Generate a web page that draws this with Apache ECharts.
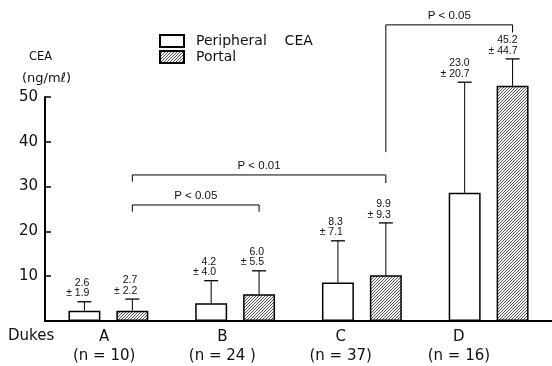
<!DOCTYPE html>
<html>
<head>
<meta charset="utf-8">
<script src="https://cdn.jsdelivr.net/npm/echarts@6/dist/echarts.min.js"></script>
<style>html,body{margin:0;padding:0;background:#fff}#chart{width:552px;height:366px}</style>
</head>
<body>
<div id="chart"></div>
<script>
// ---- data ----
const categories = ['A', 'B', 'C', 'D'];
const groupSizes = ['(n = 10)', '(n = 24 )', '(n = 37)', '(n = 16)'];
const peripheralMean = [2.3, 3.95, 8.6, 28.6];
const portalMean = [2.3, 5.95, 10.2, 52.5];
const peripheralUpper = [4.3, 9.0, 17.9, 53.3];
const portalUpper = [4.9, 11.2, 21.9, 58.5];
const peripheralText = ['2.6\n± 1.9', '4.2\n± 4.0', '8.3\n± 7.1', '23.0\n± 20.7'];
const portalText = ['2.7\n± 2.2', '6.0\n± 5.5', '9.9\n± 9.3', '45.2\n± 44.7'];
const yTicks = [10, 20, 30, 40, 50];
// significance brackets (between portal bars)
const bracketFrom = [0, 0, 2];
const bracketTo = [1, 2, 3];
const bracketLevel = [25.9, 32.6, 66.1];
const bracketLeftEnd = [24.4, 31.1, 37.7];
const bracketRightEnd = [24.4, 30.8, 64.4];
const bracketLabel = ['P < 0.05', 'P < 0.01', 'P < 0.05'];

const CAT_GAP = 0.37, BAR_GAP = 0.5;
const FONT = '"DejaVu Sans", sans-serif';
const SMALL = '"Liberation Sans", Arial, sans-serif';

function barOffset(band, idx) {
  const group = band * (1 - CAT_GAP);
  const bw = group / (2 + BAR_GAP);
  return -group / 2 + bw / 2 + idx * bw * (1 + BAR_GAP);
}

// hatch pattern
const pc = document.createElement('canvas');
pc.width = 3; pc.height = 3;
const pctx = pc.getContext('2d');
pctx.fillStyle = '#f4f4f4'; pctx.fillRect(0, 0, 3, 3);
pctx.fillStyle = '#555';
for (let x = 0; x < 3; x++) for (let y = 0; y < 3; y++) if ((x + y) % 3 === 2) pctx.fillRect(x, y, 1, 1);
const hatch = { image: pc, repeat: 'repeat' };

const errData = [];
categories.forEach((c, i) => {
  errData.push([i, peripheralMean[i], peripheralUpper[i], 0, i]);
  errData.push([i, portalMean[i], portalUpper[i], 1, i]);
});
const brData = bracketFrom.map((f, i) => [f, bracketLevel[i], bracketTo[i], bracketLeftEnd[i], bracketRightEnd[i]]);

const chart = echarts.init(document.getElementById('chart'), null, { renderer: 'canvas' });
chart.setOption({
  animation: false,
  backgroundColor: '#fff',
  title: [
    { text: 'CEA', left: 29, top: 51, padding: 0, textStyle: { fontSize: 11.5, fontWeight: 'normal', fontFamily: FONT, color: '#111' } },
    { text: '(ng/mℓ)', left: 22, top: 72, padding: 0, textStyle: { fontSize: 13, fontWeight: 'normal', fontFamily: FONT, color: '#111' } },
    { text: 'Dukes', left: 8, top: 329, padding: 0, textStyle: { fontSize: 15, fontWeight: 'normal', fontFamily: FONT, color: '#111' } }
  ],
  legend: {
    left: 159, top: 34, orient: 'vertical', padding: 0,
    itemWidth: 24, itemHeight: 12, itemGap: 2, icon: 'rect', selectedMode: false,
    formatter: n => n.replace(' ', '    '),
    textStyle: { fontSize: 14, fontFamily: FONT, color: '#111', padding: [0, 0, 0, 7] },
    data: ['Peripheral CEA', 'Portal']
  },
  grid: [
    { left: 45, width: 508, top: 97, bottom: 45 },
    { left: 45, width: 473, top: 97, bottom: 45 }
  ],
  xAxis: [
    { type: 'category', data: categories, gridIndex: 0,
      axisLine: { lineStyle: { color: '#000', width: 2 } }, axisTick: { show: false }, axisLabel: { show: false } },
    { type: 'category', data: categories, gridIndex: 1,
      axisLine: { show: false }, axisTick: { show: false },
      axisLabel: { formatter: (v, i) => v + '\n' + groupSizes[i], fontSize: 15, lineHeight: 19, margin: 7, fontFamily: FONT, color: '#111' } }
  ],
  yAxis: [
    { type: 'value', gridIndex: 0, min: 0, max: 50, interval: 10,
      axisLine: { show: true, lineStyle: { color: '#000', width: 2 } },
      axisTick: { show: true, inside: true, length: 6, lineStyle: { color: '#000', width: 1.5 } },
      splitLine: { show: false },
      axisLabel: { formatter: v => (yTicks.indexOf(v) >= 0 ? String(v) : ''), fontSize: 15, margin: 7, fontFamily: FONT, color: '#111' } },
    { type: 'value', gridIndex: 1, min: 0, max: 50, show: false }
  ],
  series: [
    { name: 'Peripheral CEA', type: 'bar', data: peripheralMean, clip: false,
      barGap: (BAR_GAP * 100) + '%', barCategoryGap: (CAT_GAP * 100) + '%',
      itemStyle: { color: '#fff', borderColor: '#000', borderWidth: 1.5 } },
    { name: 'Portal', type: 'bar', data: portalMean, clip: false,
      barGap: (BAR_GAP * 100) + '%', barCategoryGap: (CAT_GAP * 100) + '%',
      itemStyle: { color: hatch, borderColor: '#000', borderWidth: 1.5 } },
    { type: 'custom', data: errData, clip: false, z: 5,
      encode: { x: 0, y: 2 },
      renderItem: (params, api) => {
        const cat = api.value(0), lo = api.value(1), hi = api.value(2), s = api.value(3), li = api.value(4);
        const band = api.size([1, 0])[0];
        const off = barOffset(band, s);
        const p0 = api.coord([cat, lo]), p1 = api.coord([cat, hi]);
        const cx = p0[0] + off;
        const txt = (s === 0 ? peripheralText : portalText)[li];
        return { type: 'group', children: [
          { type: 'line', shape: { x1: cx, y1: p0[1], x2: cx, y2: p1[1] }, style: { stroke: '#000', lineWidth: 1 } },
          { type: 'line', shape: { x1: cx - 7, y1: p1[1], x2: cx + 7, y2: p1[1] }, style: { stroke: '#000', lineWidth: 1.3 } },
          { type: 'text', style: { text: txt, x: cx + 5, y: p1[1] - 3, align: 'right', verticalAlign: 'bottom',
              fontSize: 10.5, lineHeight: 10.5, fontFamily: SMALL, fill: '#111' } }
        ] };
      } },
    { type: 'custom', data: brData, clip: false, z: 5,
      encode: { x: 0, y: 1 },
      renderItem: (params, api) => {
        const f = api.value(0), lvl = api.value(1), t = api.value(2), le = api.value(3), re = api.value(4);
        const band = api.size([1, 0])[0];
        const off = barOffset(band, 1);
        const a = api.coord([f, lvl]), b = api.coord([t, lvl]);
        const x1 = a[0] + off, x2 = b[0] + off;
        const yl = api.coord([f, le])[1], yr = api.coord([t, re])[1];
        return { type: 'group', children: [
          { type: 'polyline', shape: { points: [[x1, yl], [x1, a[1]], [x2, a[1]], [x2, yr]] }, style: { stroke: '#000', lineWidth: 1, fill: 'none' } },
          { type: 'text', style: { text: bracketLabel[params.dataIndex], x: (x1 + x2) / 2, y: a[1] - 3, align: 'center', verticalAlign: 'bottom',
              fontSize: 11.5, fontFamily: SMALL, fill: '#111' } }
        ] };
      } }
  ]
});
</script>
</body>
</html>
